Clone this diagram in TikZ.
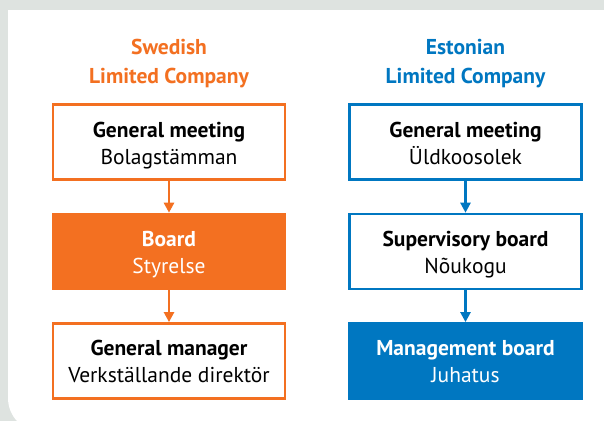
\documentclass[tikz,border=0pt]{standalone}
\usepackage{fontspec}
\setmainfont{PT Sans}
\usetikzlibrary{arrows.meta, positioning}
\definecolor{swe}{HTML}{F37021}
\definecolor{est}{HTML}{0077C1}
\definecolor{panel}{HTML}{DEE3E0}
% two-line label: bold name over the local term
\newcommand{\orgtext}[2]{\rule{0pt}{22pt}\textbf{#1}\\\rule[-5pt]{0pt}{5pt}#2}

\begin{document}
\begin{tikzpicture}[x=1pt, y=1pt, node distance=32pt,
    font=\fontsize{21.5}{27}\selectfont,
    title/.style={align=center, font=\fontsize{21.5}{29}\selectfont\bfseries},
    org/.style={draw, line width=2.4pt, fill=white, minimum width=232pt, minimum height=75pt, align=center},
    arrow/.style={-{Triangle[width=10pt,length=10pt]}, line width=2.4pt}]
    \useasboundingbox (0,0) rectangle (604,-421);
    \clip (0,0) rectangle (604,-421);
    % grey frame and white panel
    \fill[panel] (0,0) rectangle (604,-421);
    \fill[white] (8,-10) -- (640,-10) -- (640,-432) [rounded corners=34pt]-- (8,-432) [sharp corners]-- cycle;

    % Swedish column
    \node[title, text=swe] (stitle) at (169,-64) {Swedish\\Limited Company};
    \node[org, draw=swe] (sgm) at (169,-142) {\orgtext{General meeting}{Bolagstämman}};
    \node[org, draw=swe, fill=swe, text=white, below=of sgm] (sbd) {\orgtext{Board}{Styrelse}};
    \node[org, draw=swe, below=of sbd] (smd) {\orgtext{General manager}{Verkställande direktör}};

    \draw[arrow, swe] (sgm) -- (sbd);
    \draw[arrow, swe] (sbd) -- (smd);

    % Estonian column
    \node[title, text=est] (etitle) at (465.5,-64) {Estonian\\Limited Company};
    \node[org, draw=est] (egm) at (465.5,-142) {\orgtext{General meeting}{Üldkoosolek}};
    \node[org, draw=est, below=of egm] (esb) {\orgtext{Supervisory board}{Nõukogu}};
    \node[org, draw=est, fill=est, text=white, below=of esb] (emb) {\orgtext{Management board}{Juhatus}};

    \draw[arrow, est] (egm) -- (esb);
    \draw[arrow, est] (esb) -- (emb);
\end{tikzpicture}
\end{document}
